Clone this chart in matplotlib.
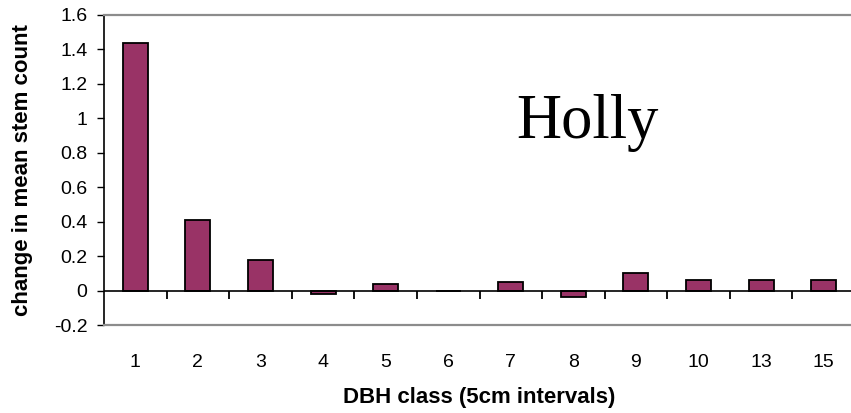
import matplotlib
matplotlib.use("Agg")
import matplotlib.pyplot as plt
from matplotlib.markers import TICKDOWN
import numpy as np

# mean stem count change per DBH class
dbh_classes = ["1", "2", "3", "4", "5", "6", "7", "8", "9", "10", "13", "15"]
stem_change = [1.44, 0.41, 0.18, -0.02, 0.04, 0.0, 0.05, -0.04, 0.10, 0.06, 0.06, 0.06]
y_ticks = [-0.2, 0, 0.2, 0.4, 0.6, 0.8, 1, 1.2, 1.4, 1.6]

plt.rcParams['font.family'] = ['Liberation Sans', 'DejaVu Sans']

fig = plt.figure(figsize=(8.51, 4.13), dpi=100)
# plot area runs slightly past the right edge of the figure
ax = fig.add_axes([104 / 851, 88 / 413, 751 / 851, 310 / 413])

x = np.arange(len(dbh_classes))
ax.bar(x, stem_change, width=0.4, color='#993366', edgecolor='black', linewidth=1.3, zorder=3)

ax.set_xlim(-0.5, len(dbh_classes) - 0.5)
ax.set_ylim(-0.2, 1.6)

# zero line with category separator ticks hanging below it
ax.axhline(0, color='black', linewidth=1.2, zorder=4)
sep = x[:-1] + 0.5
ax.plot(sep, np.zeros_like(sep, dtype=float), linestyle='none', marker=TICKDOWN,
        markersize=5.5, markeredgewidth=1.3, color='black', zorder=4, clip_on=False)

ax.set_yticks(y_ticks)
ax.set_yticklabels([f"{v:g}" for v in y_ticks])
ax.tick_params(axis='y', direction='out', length=5, width=1, labelsize=14, pad=7)
ax.set_xticks(x)
ax.set_xticklabels(dbh_classes)
ax.tick_params(axis='x', length=0, labelsize=14, pad=21)

for side in ['top', 'bottom']:
    ax.spines[side].set_color('#8c8c8c')
    ax.spines[side].set_linewidth(1.6)
ax.spines['right'].set_visible(False)
ax.spines['left'].set_color('black')
ax.spines['left'].set_linewidth(1.2)

ax.set_ylabel("change in mean stem count", fontsize=16, fontweight='bold')
ax.yaxis.set_label_coords(-0.0945, 0.5)
ax.set_xlabel("DBH class (5cm intervals)", fontsize=16, fontweight='bold')
ax.xaxis.set_label_coords(0.5, -0.2)

ax.text(587 / 851, 1 - 123 / 413, "Holly", transform=fig.transFigure, fontsize=45,
        family='Liberation Serif', ha='center', va='center')

fig.savefig("out.png", dpi=100)
